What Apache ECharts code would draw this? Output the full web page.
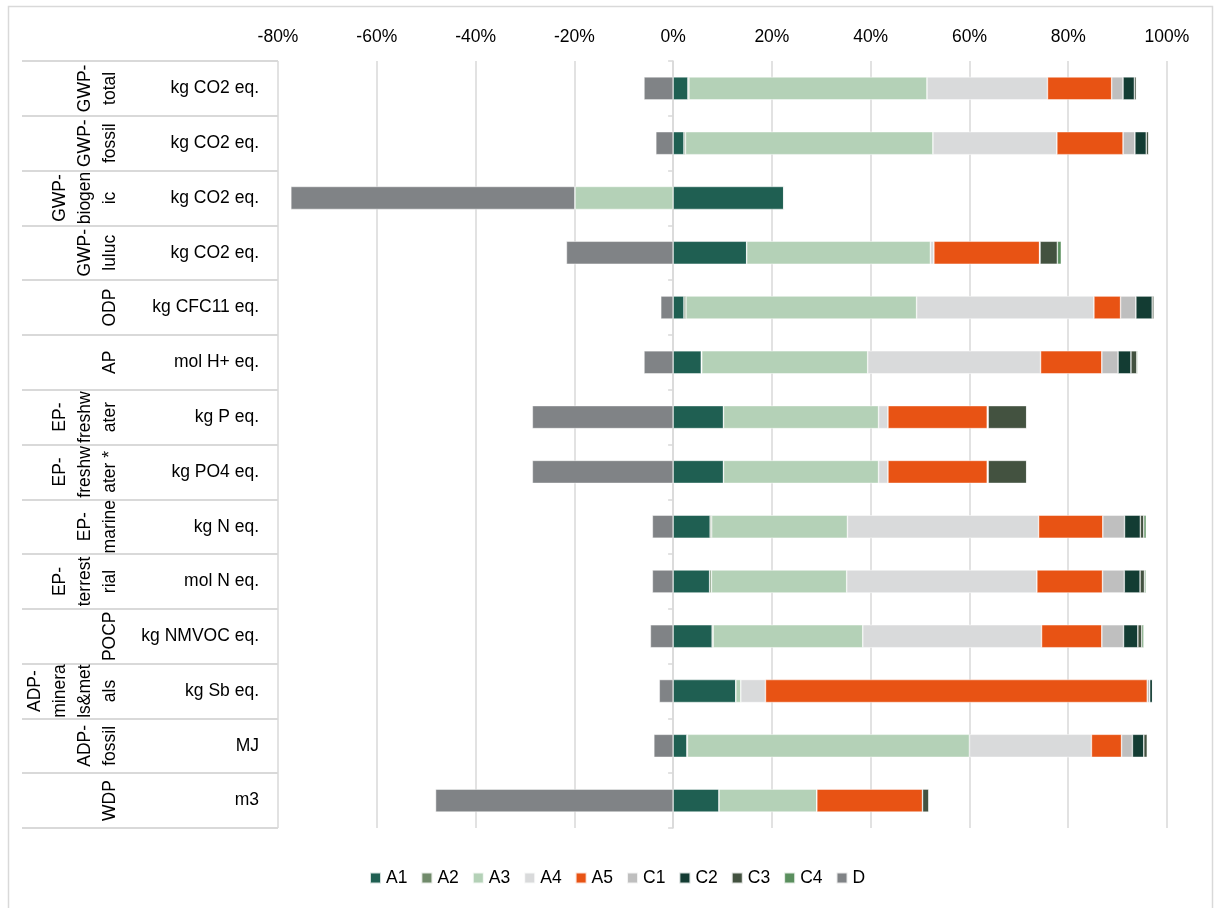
<!DOCTYPE html>
<html>
<head>
<meta charset="utf-8">
<script src="https://cdn.jsdelivr.net/npm/echarts@6/dist/echarts.min.js"></script>
<style>
html,body{margin:0;padding:0;background:#fff;}
#chart{width:1215px;height:908px;}
</style>
</head>
<body>
<div id="chart"></div>
<script>
// Indicator names (wrapped as in the source table) and units
var indicators = ["GWP-\ntotal","GWP-\nfossil","GWP-\nbiogen\nic","GWP-\nluluc","ODP","AP","EP-\nfreshw\nater","EP-\nfreshw\nater *","EP-\nmarine","EP-\nterrest\nrial","POCP","ADP-\nminera\nls&met\nals","ADP-\nfossil","WDP"];
var units = ["kg CO2 eq.","kg CO2 eq.","kg CO2 eq.","kg CO2 eq.","kg CFC11 eq.","mol H+ eq.","kg P eq.","kg PO4 eq.","kg N eq.","mol N eq.","kg NMVOC eq.","kg Sb eq.","MJ","m3"];
var stages = ["A1","A2","A3","A4","A5","C1","C2","C3","C4","D"];
var xTicks = {min:-80, max:100, interval:20};

// Share per stage (%) for each indicator, top to bottom
var A1 = [3.0, 2.2, 22.4, 14.9, 2.2, 5.7, 10.2, 10.2, 7.5, 7.4, 7.9, 12.7, 2.8, 9.3];
var A2 = [0.2, 0.3, 0, 0, 0.4, 0.1, 0, 0, 0.3, 0.35, 0.2, 0, 0.1, 0];
var A3 = [48.2, 50.1, -19.9, 37.2, 46.7, 33.6, 31.4, 31.4, 27.5, 27.4, 30.3, 1.0, 57.1, 19.8];
var A4 = [24.4, 25.1, 0, 0.7, 35.9, 35.0, 1.9, 1.9, 38.7, 38.5, 36.2, 5.0, 24.7, 0];
var A5 = [13.0, 13.4, 0.2, 21.4, 5.4, 12.4, 20.1, 20.1, 13.0, 13.3, 12.2, 77.3, 6.1, 21.4];
var C1 = [2.3, 2.4, 0, 0, 3.1, 3.3, 0.1, 0.1, 4.4, 4.4, 4.4, 0.5, 2.2, 0];
var C2 = [2.3, 2.3, 0, 0.1, 3.3, 2.6, 0.1, 0.1, 3.2, 3.2, 2.9, 0.6, 2.3, 0];
var C3 = [0.4, 0.5, 0, 3.5, 0.4, 1.2, 7.8, 7.8, 0.7, 0.9, 0.8, 0, 0.7, 1.3];
var C4 = [0.1, 0.1, 0, 0.8, 0, 0.2, 0, 0, 0.5, 0.3, 0.4, 0, 0.1, 0];
var D  = [-5.9, -3.5, -57.5, -21.6, -2.5, -5.9, -28.5, -28.5, -4.2, -4.2, -4.6, -2.8, -3.9, -48.1];

var values = [A1, A2, A3, A4, A5, C1, C2, C3, C4, D];
var colors = ["#1f5f52","#718b6b","#b4d1b7","#d9dadb","#e85314","#bfbfbf","#133c33","#435240","#5a8f5e","#808386"];

var FONT = "'Liberation Sans', Arial, sans-serif";
var chart = echarts.init(document.getElementById('chart'), null, {renderer:'canvas'});

var series = stages.map(function(name, i){
  return {
    name: name,
    type: 'bar',
    stack: 'total',
    yAxisIndex: 0,
    barWidth: 23,
    data: values[i],
    itemStyle: {color: colors[i], borderColor: 'rgba(255,255,255,0.8)', borderWidth: 0.6},
    emphasis: {disabled: true}
  };
});

chart.setOption({
  animation: false,
  backgroundColor: '#ffffff',
  textStyle: {fontFamily: FONT},
  color: colors,
  graphic: [{
    type: 'rect', silent: true,
    shape: {x: 8.5, y: 6.5, width: 1204, height: 912},
    style: {fill: 'none', stroke: '#d9d9d9', lineWidth: 1.5}
  }],
  grid: {left: 278, right: 48, top: 61, bottom: 80, containLabel: false, outerBoundsMode: 'none'},
  legend: {
    data: stages,
    bottom: 16,
    left: 364,
    icon: 'rect',
    itemWidth: 11,
    itemHeight: 11,
    itemGap: 13,
    textStyle: {fontSize: 17.5, color: '#000', fontFamily: FONT}
  },
  xAxis: {
    type: 'value',
    position: 'top',
    min: xTicks.min, max: xTicks.max, interval: xTicks.interval,
    axisLine: {show: false},
    axisTick: {show: false},
    axisLabel: {formatter: '{value}%', fontSize: 17.5, color: '#000', margin: 15, fontFamily: FONT},
    splitLine: {show: true, lineStyle: {color: '#d9d9d9', width: 1.5}}
  },
  yAxis: [
    {
      type: 'category', data: units, inverse: true,
      axisLine: {show: true, onZero: true, lineStyle: {color: '#d9d9d9', width: 1.5}},
      axisTick: {show: true, length: 5, lineStyle: {color: '#d9d9d9', width: 1.5}},
      axisLabel: {show: false},
      splitLine: {show: false}
    },
    {
      type: 'category', data: units, inverse: true, position: 'left', offset: 0,
      axisLine: {show: false, onZero: false},
      axisTick: {show: true, length: 256, lineStyle: {color: '#d9d9d9', width: 2}},
      axisLabel: {show: true, interval: 0, fontSize: 17.5, color: '#000', margin: 19, fontFamily: FONT},
      splitLine: {show: false}
    },
    {
      type: 'category', data: indicators, inverse: true, position: 'left', offset: 138,
      axisLine: {show: false, onZero: false},
      axisTick: {show: false},
      axisLabel: {show: true, interval: 0, rotate: 90, fontSize: 17.5, lineHeight: 25, color: '#000', margin: 17, fontFamily: FONT, hideOverlap: false},
      splitLine: {show: false}
    }
  ],
  series: series
});
</script>
</body>
</html>
